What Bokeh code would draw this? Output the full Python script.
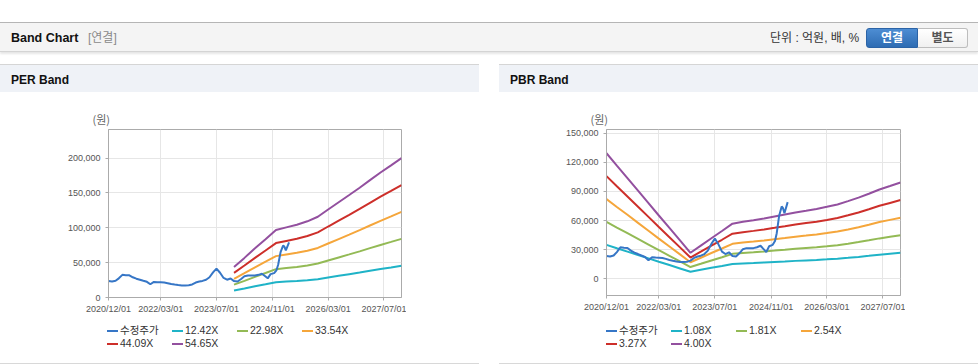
import pandas as pd
from bokeh.plotting import figure
from bokeh.models import DataRange1d, FixedTicker, NumeralTickFormatter, ColumnDataSource, Div, Spacer
from bokeh.layouts import column, row
from bokeh.embed import file_html
from bokeh.resources import INLINE

# ---------------- data ----------------
price_dates = [
    "2020-12-01", "2021-01-01", "2021-02-01", "2021-03-01", "2021-04-01", "2021-05-01",
    "2021-06-01", "2021-07-01", "2021-08-01", "2021-09-01", "2021-10-01", "2021-11-01",
    "2021-12-01", "2022-01-01", "2022-02-01", "2022-03-01", "2022-04-01", "2022-05-01",
    "2022-06-01", "2022-07-01", "2022-08-01", "2022-09-01", "2022-10-01", "2022-11-01",
    "2022-12-01", "2023-01-01", "2023-02-01", "2023-03-01", "2023-04-01", "2023-05-01",
    "2023-06-01", "2023-07-01", "2023-08-01", "2023-09-01", "2023-10-01", "2023-11-01",
    "2023-12-01", "2024-01-01", "2024-02-01", "2024-03-01", "2024-04-01", "2024-05-01",
    "2024-06-01", "2024-07-01", "2024-08-01", "2024-09-01", "2024-09-20", "2024-10-15",
    "2024-11-15", "2024-12-05", "2024-12-20", "2025-01-10", "2025-02-01", "2025-02-12",
    "2025-02-25", "2025-03-25",
]
price_values = [
    23600, 23000, 24000, 27500, 32500, 32000,
    31800, 29000, 27000, 25500, 24000, 22500,
    19000, 22300, 22000, 21800, 21500, 20500,
    19300, 18500, 17800, 17300, 17200, 17600,
    18700, 21500, 23000, 23800, 25500, 29000,
    36000, 41500, 35500, 28000, 25500, 27300,
    23500, 23000, 26500, 30500, 31600, 31500,
    31600, 32500, 34000, 30000, 27500, 33500,
    35000, 39000, 47000, 65000, 74500, 73000,
    67500, 79000,
]

per_dates = [
    "2023-12-01", "2024-03-01", "2024-06-01", "2024-09-01", "2024-12-01", "2025-03-01",
    "2025-06-01", "2025-09-01", "2025-12-01", "2026-03-01", "2026-06-01", "2026-09-01",
    "2026-12-01", "2027-03-01", "2027-06-01", "2027-09-01", "2027-12-01",
]
per_eps = [800, 1040, 1290, 1530, 1770, 1840, 1910, 2000, 2120, 2310, 2500, 2690,
           2880, 3080, 3280, 3470, 3660]
per_multiples = [12.42, 22.98, 33.54, 44.09, 54.65]
per_labels = ["12.42X", "22.98X", "33.54X", "44.09X", "54.65X"]

pbr_dates = [
    "2020-12-01", "2021-03-01", "2021-06-01", "2021-09-01", "2021-12-01", "2022-03-01",
    "2022-06-01", "2022-09-01", "2022-12-01", "2023-03-01", "2023-06-01", "2023-09-01",
    "2023-12-01", "2024-03-01", "2024-06-01", "2024-09-01", "2024-12-01", "2025-03-01",
    "2025-06-01", "2025-09-01", "2025-12-01", "2026-03-01", "2026-06-01", "2026-09-01",
    "2026-12-01", "2027-03-01", "2027-06-01", "2027-09-01", "2027-12-01",
]
pbr_bps = [32350, 29150, 25950, 22700, 19500, 16300, 13100, 9900, 6700, 8550, 10450, 12300,
           14200, 14700, 15100, 15550, 16050, 16550, 17100, 17550, 18000, 18550, 19150, 20000,
           20900, 21900, 23000, 23900, 24800]
pbr_multiples = [1.08, 1.81, 2.54, 3.27, 4.00]
pbr_labels = ["1.08X", "1.81X", "2.54X", "3.27X", "4.00X"]

price_label = "수정주가"
x_start, x_end = "2020-12-01", "2027-12-01"
x_tick_labels = ["2020/12/01", "2022/03/01", "2023/07/01", "2024/11/01", "2026/03/01", "2027/07/01"]
per_y_ticks = [0, 50000, 100000, 150000, 200000]
pbr_y_ticks = [0, 30000, 60000, 90000, 120000, 150000]

price_color = "#3676c6"
band_colors = ["#1fb3c7", "#93ba55", "#f5a63b", "#cd2f2a", "#93509f"]

LAT = "'Liberation Sans', 'Noto Sans CJK KR', sans-serif"
KR = "'Noto Sans CJK KR', sans-serif"

BASE = pd.Timestamp(x_start)


def day_of(dates):
    """Convert date strings into day offsets from the chart start (x-axis coordinates)."""
    return [int((pd.Timestamp(d.replace("/", "-")) - BASE).days) for d in dates]


def make_panel(band_dates, base, multiples, yticks, ystart, yend, fw, fh, bl, bt, bb):
    xr = DataRange1d(start=0, end=day_of([x_end])[0], range_padding=0)
    yr = DataRange1d(start=ystart, end=yend, range_padding=0)
    p = figure(frame_width=fw, frame_height=fh, output_backend="svg", toolbar_location=None,
               x_range=xr, y_range=yr,
               min_border_left=bl, min_border_top=bt, min_border_bottom=bb)
    p.outline_line_color = "#ababab"
    p.outline_line_width = 1

    bx = day_of(band_dates)
    for m, c in zip(multiples, band_colors):
        src = ColumnDataSource(dict(x=bx, y=[b * m for b in base]))
        p.line("x", "y", source=src, line_color=c, line_width=2)
    psrc = ColumnDataSource(dict(x=day_of(price_dates), y=price_values))
    p.line("x", "y", source=psrc, line_color=price_color, line_width=2)

    tick_days = day_of(x_tick_labels)
    p.xaxis.ticker = FixedTicker(ticks=tick_days)
    p.xaxis.major_label_overrides = {d: s for d, s in zip(tick_days, x_tick_labels)}
    p.yaxis.ticker = FixedTicker(ticks=yticks)
    p.yaxis.formatter = NumeralTickFormatter(format="0,0")
    for ax in (p.xaxis, p.yaxis):
        ax.axis_line_color = "#ababab"
        ax.major_tick_line_color = "#ababab"
        ax.major_tick_out = 3
        ax.major_tick_in = 0
        ax.minor_tick_line_color = None
        ax.major_label_text_font = "Liberation Sans"
        ax.major_label_text_font_size = "9px"
        ax.major_label_text_color = "#555555"
    p.xaxis.major_label_standoff = 3
    p.yaxis.major_label_standoff = 5
    p.xgrid.grid_line_color = "#e6e6e6"
    p.ygrid.grid_line_color = "#e6e6e6"

    p.title.text = "(원)"
    p.title.align = "left"
    p.title.offset = -16
    p.title.standoff = 6
    p.title.text_font = KR
    p.title.text_font_size = "11px"
    p.title.text_font_style = "normal"
    p.title.text_color = "#666666"
    return p


p_per = make_panel(per_dates, per_eps, per_multiples, per_y_ticks,
                   0, 241000, 293, 168, 108, 35, 22)
p_pbr = make_panel(pbr_dates, pbr_bps, pbr_multiples, pbr_y_ticks,
                   -17200, 153800, 294, 166, 107, 36, 23)

header_html = f"""
<div style="position:relative;width:978px;height:93px;font-family:{LAT};">
  <div style="position:absolute;left:0;top:22px;width:978px;height:30px;background:#f4f4f4;border-top:1px solid #b5b5b5;border-bottom:1px solid #d4d4d4;box-shadow:0 2px 2px rgba(0,0,0,0.10);"></div>
  <div style="position:absolute;left:11px;top:30px;font-size:12.5px;font-weight:bold;color:#111;line-height:16px;white-space:nowrap;">Band Chart</div>
  <div style="position:absolute;left:88px;top:30px;font-size:12px;color:#8a8a8a;line-height:16px;white-space:nowrap;">[연결]</div>
  <div style="position:absolute;left:770px;top:30px;font-size:12px;color:#333;line-height:16px;white-space:nowrap;">단위 : 억원, 배, %</div>
  <div style="position:absolute;left:866px;top:28px;width:52px;height:20px;box-sizing:border-box;border:1px solid #2b63a6;border-radius:3px 0 0 3px;background:linear-gradient(#4d8dd3,#2e6cb3);color:#fff;font-size:12px;font-weight:bold;text-align:center;line-height:18px;">연결</div>
  <div style="position:absolute;left:918px;top:28px;width:50px;height:20px;box-sizing:border-box;border:1px solid #bdbdbd;border-left:none;border-radius:0 3px 3px 0;background:linear-gradient(#ffffff,#f0f0f0);color:#555;font-size:12px;font-weight:bold;text-align:center;line-height:18px;">별도</div>
  <div style="position:absolute;left:0;top:64px;width:479px;height:28px;background:#eff2f7;border-top:1px solid #d5d5d5;"></div>
  <div style="position:absolute;left:11px;top:72px;font-size:12px;font-weight:bold;color:#111;line-height:16px;white-space:nowrap;">PER Band</div>
  <div style="position:absolute;left:499px;top:64px;width:479px;height:28px;background:#eff2f7;border-top:1px solid #d5d5d5;"></div>
  <div style="position:absolute;left:510px;top:72px;font-size:12px;font-weight:bold;color:#111;line-height:16px;white-space:nowrap;">PBR Band</div>
</div>
"""
header = Div(text=header_html, width=978, height=93, margin=(0, 0, 0, 0))


def legend_items_html(x0, labels):
    names = [price_label] + labels
    colors = [price_color] + band_colors
    parts = []
    for i, (name, col) in enumerate(zip(names, colors)):
        gx = x0 + 65 * (i % 4)
        cy = 13 + 13 * (i // 4)
        parts.append(f'<div style="position:absolute;left:{gx}px;top:{cy - 1}px;width:11px;height:2px;background:{col};"></div>')
        parts.append(f'<div style="position:absolute;left:{gx + 13}px;top:{cy - 7}px;font-size:10.5px;line-height:13px;color:#333;white-space:nowrap;">{name}</div>')
    return "\n".join(parts)


legend_html = f"""
<div style="position:relative;width:978px;height:46px;font-family:{LAT};">
{legend_items_html(107, per_labels)}
{legend_items_html(606, pbr_labels)}
  <div style="position:absolute;left:0;top:45px;width:479px;height:1px;background:#d8d8d8;"></div>
  <div style="position:absolute;left:499px;top:45px;width:479px;height:1px;background:#d8d8d8;"></div>
</div>
"""
legend_div = Div(text=legend_html, width=978, height=46, margin=(0, 0, 0, 0))

layout = column(header, row(p_per, Spacer(width=93, height=10), p_pbr, spacing=0), legend_div, spacing=0)

open("out.html", "w").write(file_html(layout, INLINE))
